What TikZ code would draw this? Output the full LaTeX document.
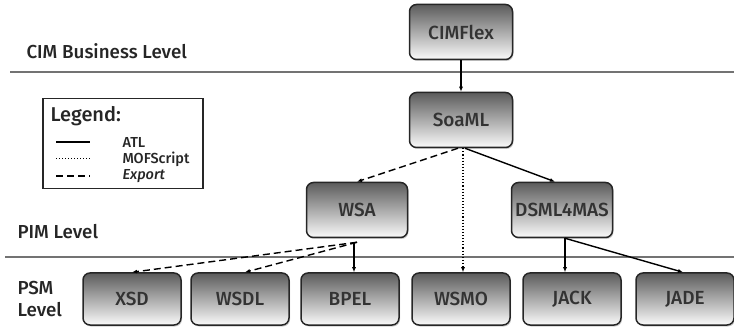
\documentclass[tikz,border=0pt]{standalone}
\usepackage{fontspec}
\setmainfont{Fira Sans Medium}[ItalicFont={Fira Sans Medium Italic}]
\usetikzlibrary{arrows.meta,shadows}
\begin{document}
\begin{tikzpicture}[x=1pt,y=-1pt,
  box/.style={draw=black!85,line width=1.5pt,rounded corners=7pt,
    top color=black!64,bottom color=black!2,
    minimum width=98pt,minimum height=52pt,inner sep=0pt,
    font=\fontsize{19}{19}\selectfont\color{black!80},
    drop shadow={shadow xshift=1pt,shadow yshift=-1.5pt,opacity=0.4}},
  bigbox/.style={box,minimum width=103pt,minimum height=55pt},
  conn/.style={line width=1.4pt,-{Latex[length=5pt,width=4pt]}},
  expo/.style={conn,dash pattern=on 7pt off 4pt},
  mofs/.style={line width=1.1pt,dotted,-{Latex[length=5pt,width=4pt]}},
  level/.style={anchor=west,font=\fontsize{18.8}{22}\selectfont,text=black!85,align=left},
  legitem/.style={anchor=west,font=\fontsize{14.5}{14.5}\selectfont,text=black!85},
  sep/.style={draw=black!55,line width=1.3pt}
]
\useasboundingbox (0,0) rectangle (734,331);
% separator lines
\coordinate (l1a) at (10,72); \coordinate (l1b) at (734,72);
\coordinate (l2a) at (5,257); \coordinate (l2b) at (734,257);
\draw[sep] (l1a) -- (l1b);
\draw[sep] (l2a) -- (l2b);
% level labels
\node[level] (cim) at (23,51) {CIM Business Level};
\node[level] (pim) at (14,232) {PIM Level};
\node[level] (psm) at (14,299) {PSM\\Level};
% legend
\node[draw=black!85,line width=1.5pt,minimum width=160pt,minimum height=90pt,anchor=north west] (leg) at (42,98) {};
\node[anchor=west,font=\fontsize{20}{20}\selectfont,text=black!85] (legt) at (47,116) {Legend:};
\coordinate (la1) at (56,142); \coordinate (la2) at (90,142);
\coordinate (lb1) at (56,159); \coordinate (lb2) at (90,159);
\coordinate (lc1) at (56,176); \coordinate (lc2) at (90,176);
\draw[line width=1.6pt] (la1) -- (la2);
\draw[line width=1pt,dotted] (lb1) -- (lb2);
\draw[line width=1.6pt,dash pattern=on 7pt off 4pt] (lc1) -- (lc2);
\node[legitem] (latl) at (119,142) {ATL};
\node[legitem] (lmof) at (119,159) {MOFScript};
\node[legitem,font=\fontsize{14.5}{14.5}\selectfont\itshape] (lexp) at (119,176) {Export};
% boxes
\node[bigbox] (cimflex) at (461,32) {CIMFlex};
\node[bigbox] (soaml) at (461,120) {SoaML};
\node[bigbox,minimum width=101pt] (wsa) at (357,210) {WSA};
\node[bigbox,minimum width=101pt] (dsml) at (562,210) {DSML4MAS};
\node[box] (xsd) at (132,299) {XSD};
\node[box] (wsdl) at (240,299) {WSDL};
\node[box] (bpel) at (350,299) {BPEL};
\node[box] (wsmo) at (461,299) {WSMO};
\node[box] (jack) at (572,299) {JACK};
\node[box] (jade) at (685,299) {JADE};
% connectors
\draw[conn] (cimflex.south) -- (soaml.north);
\draw[expo] ([xshift=-3pt]soaml.south) -- (wsa.north);
\draw[mofs] ([xshift=2pt]soaml.south) -- ([xshift=2pt]wsmo.north);
\draw[conn] ([xshift=4pt]soaml.south) -- ([xshift=-7pt]dsml.north);
\draw[expo] ([yshift=-4pt]wsa.south) -- (xsd.north);
\draw[expo] ([yshift=-4pt]wsa.south) -- ([xshift=5pt]wsdl.north);
\draw[conn] ([xshift=-3pt,yshift=-4pt]wsa.south) -- ([xshift=4pt]bpel.north);
\draw[conn] ([xshift=3pt]dsml.south) -- ([xshift=-7pt]jack.north);
\draw[conn] ([xshift=3pt]dsml.south) -- ([xshift=-2pt]jade.north);
\end{tikzpicture}
\end{document}
